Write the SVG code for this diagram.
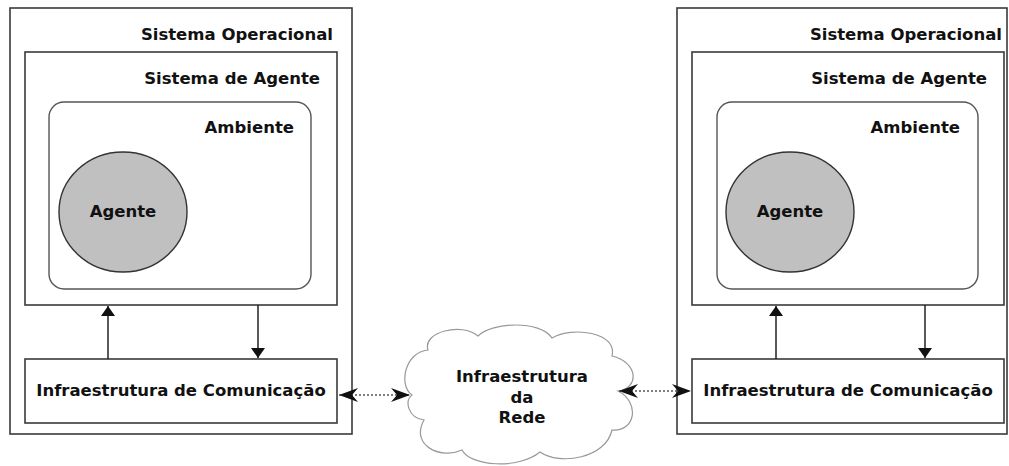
<svg xmlns="http://www.w3.org/2000/svg" width="1009" height="466" viewBox="0 0 1009 466">
<style>
.box{fill:#fff;stroke:#3a3a3a;stroke-width:1.6}
.amb{fill:#fff;stroke:#555;stroke-width:1.4}
.ag{fill:#c0c0c0;stroke:#333;stroke-width:1.4}
.t{font-family:"DejaVu Sans",sans-serif;font-weight:bold;font-size:16.5px;fill:#111}
.arr{stroke:#222;stroke-width:1.5;fill:none}
.dot{stroke:#555;stroke-width:1.6;stroke-dasharray:2,2;fill:none}
.cloud{fill:#fff;stroke:#999;stroke-width:1.2}
</style>
<defs>
<marker id="tri" markerWidth="10" markerHeight="14" refX="14" refY="5" orient="auto-start-reverse" markerUnits="userSpaceOnUse" viewBox="0 0 14 10" preserveAspectRatio="none">
<path d="M0,0 L14,5 L0,10 Z" fill="#111"/>
</marker>
<marker id="sw" markerWidth="19" markerHeight="14" refX="19" refY="7" orient="auto-start-reverse" markerUnits="userSpaceOnUse" viewBox="0 0 19 14">
<path d="M19,7 L0,0 L6,7 L0,14 Z" fill="#111"/>
</marker>
</defs>
<rect width="1009" height="466" fill="#fff"/>

<g id="left-system">
<rect class="box" x="10" y="8" width="342" height="426"/>
<text class="t" x="333" y="40" text-anchor="end">Sistema Operacional</text>
</g>
<g id="left-agent-system">
<rect class="box" x="25" y="52" width="312" height="253"/>
<text class="t" x="320" y="84" text-anchor="end">Sistema de Agente</text>
</g>
<g id="left-env">
<rect class="amb" x="49" y="102" width="262" height="187" rx="15"/>
<text class="t" x="294" y="133" text-anchor="end">Ambiente</text>
</g>
<g id="left-agent">
<ellipse class="ag" cx="123" cy="212" rx="64" ry="60"/>
<text class="t" x="123" y="217" text-anchor="middle">Agente</text>
</g>
<g id="left-comm">
<rect class="box" x="25" y="359" width="312" height="64"/>
<text class="t" x="181" y="396" text-anchor="middle">Infraestrutura de Comunicação</text>
</g>

<g id="right-system">
<rect class="box" x="677" y="8" width="330" height="426"/>
<text class="t" x="1002" y="40" text-anchor="end">Sistema Operacional</text>
</g>
<g id="right-agent-system">
<rect class="box" x="692" y="52" width="312" height="253"/>
<text class="t" x="987" y="84" text-anchor="end">Sistema de Agente</text>
</g>
<g id="right-env">
<rect class="amb" x="717" y="102" width="261" height="187" rx="15"/>
<text class="t" x="960" y="133" text-anchor="end">Ambiente</text>
</g>
<g id="right-agent">
<ellipse class="ag" cx="790" cy="212" rx="64" ry="60"/>
<text class="t" x="790" y="217" text-anchor="middle">Agente</text>
</g>
<g id="right-comm">
<rect class="box" x="692" y="359" width="312" height="64"/>
<text class="t" x="848" y="396" text-anchor="middle">Infraestrutura de Comunicação</text>
</g>

<g id="network">
<path class="cloud" d="M412,395 C398,385 405,352 428,350 C422,332 462,322 478,336 C492,322 540,320 552,338 C572,326 618,332 612,356 C638,362 640,388 618,391 C640,402 636,432 612,430 C606,458 560,466 540,452 C518,470 470,466 462,450 C440,460 410,445 424,420 C408,418 404,400 412,395 Z"/>
<text class="t" x="522" y="382" text-anchor="middle">Infraestrutura</text>
<text class="t" x="522" y="403" text-anchor="middle">da</text>
<text class="t" x="522" y="423" text-anchor="middle">Rede</text>
</g>

<g id="connectors">
<line class="arr" x1="108" y1="359" x2="108" y2="306" marker-end="url(#tri)"/>
<line class="arr" x1="258" y1="305" x2="258" y2="358" marker-end="url(#tri)"/>
<line class="arr" x1="776" y1="359" x2="776" y2="306" marker-end="url(#tri)"/>
<line class="arr" x1="925" y1="305" x2="925" y2="358" marker-end="url(#tri)"/>
<line class="dot" x1="339" y1="395" x2="410" y2="395" marker-start="url(#sw)" marker-end="url(#sw)"/>
<line class="dot" x1="619" y1="391" x2="691" y2="391" marker-start="url(#sw)" marker-end="url(#sw)"/>
</g>
</svg>
